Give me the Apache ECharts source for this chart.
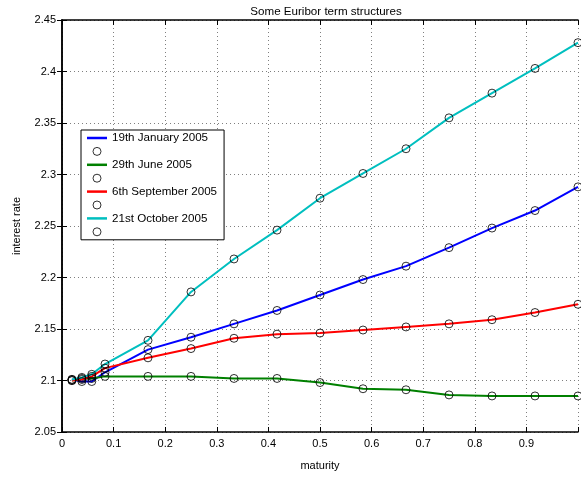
<!DOCTYPE html>
<html>
<head>
<meta charset="utf-8">
<script src="https://cdn.jsdelivr.net/npm/echarts@6/dist/echarts.min.js"></script>
<style>
html,body{margin:0;padding:0;background:#fff;}
#c{width:581px;height:477px;}
</style>
</head>
<body>
<div id="c"></div>
<script>
// maturities in years: 1w, 2w, 3w, 1m..12m
var maturities = [1/52, 2/52, 3/52, 1/12, 2/12, 3/12, 4/12, 5/12, 6/12, 7/12, 8/12, 9/12, 10/12, 11/12, 12/12];
var seriesNames = ['19th January 2005', '29th June 2005', '6th September 2005', '21st October 2005'];
var jan19 = [2.101, 2.099, 2.099, 2.108, 2.130, 2.142, 2.155, 2.168, 2.183, 2.198, 2.211, 2.229, 2.248, 2.265, 2.288];
var jun29 = [2.100, 2.102, 2.102, 2.104, 2.104, 2.104, 2.102, 2.102, 2.098, 2.092, 2.091, 2.086, 2.085, 2.085, 2.085];
var sep06 = [2.100, 2.101, 2.104, 2.112, 2.122, 2.131, 2.141, 2.145, 2.146, 2.149, 2.152, 2.155, 2.159, 2.166, 2.174];
var oct21 = [2.101, 2.103, 2.106, 2.116, 2.139, 2.186, 2.218, 2.246, 2.277, 2.301, 2.325, 2.355, 2.379, 2.403, 2.428];
var colors = ['#0000ff', '#008000', '#ff0000', '#00bfbf'];
var xTicks = [0, 0.1, 0.2, 0.3, 0.4, 0.5, 0.6, 0.7, 0.8, 0.9];
var yTicks = [2.05, 2.1, 2.15, 2.2, 2.25, 2.3, 2.35, 2.4, 2.45];

var values = [jan19, jun29, sep06, oct21];
var FONT = 'Liberation Sans, Arial, sans-serif';

function pairs(arr) { return maturities.map(function (m, i) { return [m, arr[i]]; }); }

var series = [];
var legendData = [];
values.forEach(function (arr, k) {
  series.push({
    name: seriesNames[k], type: 'line', data: pairs(arr),
    symbol: 'none', lineStyle: { color: colors[k], width: 2 }, itemStyle: { color: colors[k] },
    z: 2, animation: false
  });
});
values.forEach(function (arr, k) {
  var blank = '\u00a0'.repeat(k + 1);
  series.push({
    name: blank, type: 'scatter', data: pairs(arr),
    symbol: 'circle', symbolSize: 8,
    itemStyle: { color: 'rgba(0,0,0,0)', borderColor: '#000', borderWidth: 1 },
    z: 3, animation: false
  });
});
for (var k = 0; k < 4; k++) {
  legendData.push({ name: seriesNames[k], icon: 'path://M0,0h20v2.5h-20z', itemStyle: { color: colors[k] } });
  legendData.push({ name: '\u00a0'.repeat(k + 1), itemStyle: { color: 'rgba(0,0,0,0)', borderColor: '#000', borderWidth: 1 } });
}

var axisCommon = {
  axisLine: { show: true, lineStyle: { color: '#000', width: 1.5 } },
  axisTick: { show: true, inside: true, length: 5, lineStyle: { color: '#000', width: 1 } },
};

var chart = echarts.init(document.getElementById('c'), null, { renderer: 'canvas' });
chart.setOption({
  backgroundColor: '#fff',
  animation: false,
  textStyle: { fontFamily: FONT },
  title: {
    text: 'Some Euribor term structures', left: 321, top: 1, textAlign: 'center',
    textStyle: { fontSize: 11.6, fontWeight: 'normal', color: '#000', fontFamily: FONT }
  },
  grid: { left: 62, right: 1, top: 20, bottom: 45, containLabel: false },
  legend: {
    orient: 'vertical', left: 81, top: 130, data: legendData,
    itemWidth: 20, itemHeight: 8, itemGap: 1.4,
    padding: [2, 7, 2, 6],
    backgroundColor: '#fff', borderColor: '#000', borderWidth: 1, borderRadius: 0,
    textStyle: { fontSize: 11.6, color: '#000', fontFamily: FONT },
    selectedMode: false
  },
  xAxis: [
    Object.assign({
      type: 'value', min: 0, max: 1, interval: 0.1, position: 'bottom',
      name: 'maturity', nameLocation: 'middle', nameGap: 28,
      nameTextStyle: { fontSize: 11, color: '#000', fontFamily: FONT },
      axisLabel: { fontSize: 11, color: '#000', margin: 6, fontFamily: FONT,
        formatter: function (v) { var s = xTicks.filter(function (t) { return Math.abs(t - v) < 1e-9; }); return s.length ? String(s[0]) : ''; } },
      splitLine: { show: true, lineStyle: { color: '#7f7f7f', type: [1, 3], width: 1 } }
    }, axisCommon),
    Object.assign({
      type: 'value', min: 0, max: 1, interval: 0.1, position: 'top',
      axisLabel: { show: false }, splitLine: { show: false }
    }, axisCommon)
  ],
  yAxis: [
    Object.assign({
      type: 'value', min: 2.05, max: 2.45, interval: 0.05, position: 'left',
      name: 'interest rate', nameLocation: 'middle', nameGap: 40,
      nameTextStyle: { fontSize: 11, color: '#000', fontFamily: FONT },
      axisLabel: { fontSize: 11, color: '#000', margin: 6, fontFamily: FONT,
        formatter: function (v) { var s = yTicks.filter(function (t) { return Math.abs(t - v) < 1e-9; }); return s.length ? String(s[0]) : ''; } },
      splitLine: { show: true, lineStyle: { color: '#7f7f7f', type: [1, 3], width: 1 } }
    }, axisCommon),
    Object.assign({
      type: 'value', min: 2.05, max: 2.45, interval: 0.05, position: 'right',
      axisLabel: { show: false }, splitLine: { show: false }
    }, axisCommon)
  ],
  series: series
});
</script>
</body>
</html>
